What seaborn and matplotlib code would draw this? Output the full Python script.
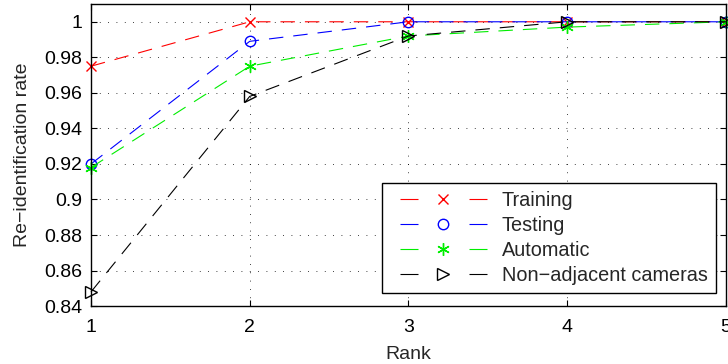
import matplotlib
matplotlib.use("Agg")
import matplotlib.pyplot as plt
import seaborn as sns
import pandas as pd

ranks = [1, 2, 3, 4, 5]
training = [0.975, 1.0, 1.0, 1.0, 1.0]
testing = [0.920, 0.989, 1.0, 1.0, 1.0]
automatic = [0.918, 0.975, 0.992, 0.997, 1.0]
non_adjacent = [0.848, 0.958, 0.992, 1.0, 1.0]
series_names = ["Training", "Testing", "Automatic", "Non\u2212adjacent cameras"]
yticks = [0.84, 0.86, 0.88, 0.9, 0.92, 0.94, 0.96, 0.98, 1.0]
ytick_labels = ["0.84", "0.86", "0.88", "0.9", "0.92", "0.94", "0.96", "0.98", "1"]

sns.set_style("ticks")
plt.rcParams["font.family"] = ["Liberation Sans", "DejaVu Sans"]

FS = 14
LFS = 14.3
fig = plt.figure(figsize=(7.28, 3.64), dpi=100)
ax = fig.add_axes([0.125, 0.159, 0.872, 0.830])

colors = ["#ff0000", "#0000ff", "#00ee00", "#000000"]
markers = ["x", "o", (6, 2, 0), ">"]
sizes = [7.5, 7.5, 9, 9]
data = [training, testing, automatic, non_adjacent]
LW = 0.8

for name, vals, c, m, s in zip(series_names, data, colors, markers, sizes):
    df = pd.DataFrame({"Rank": ranks, "rate": vals})
    sns.lineplot(data=df, x="Rank", y="rate", ax=ax, color=c, linewidth=LW,
                 linestyle=(0, (13, 9)), marker=m, markersize=s,
                 markerfacecolor="none", markeredgecolor=c, markeredgewidth=1.0,
                 label=name, clip_on=False)

ax.set_xlim(1, 5)
ax.set_ylim(0.84, 1.01)
ax.set_xticks(ranks)
ax.set_xticklabels([str(r) for r in ranks])
ax.set_yticks(yticks)
ax.set_yticklabels(ytick_labels)
ax.tick_params(direction="in", length=4, width=0.8, labelsize=FS,
               top=True, right=True, colors="black")
ax.tick_params(axis="x", pad=9)
ax.tick_params(axis="y", pad=6.5)
ax.grid(True, linestyle=(0, (1, 9)), color="black", linewidth=0.6)
for sp in ax.spines.values():
    sp.set_visible(True)
    sp.set_linewidth(1.0)
    sp.set_color("black")
ax.set_xlabel("Rank", fontsize=FS, labelpad=7.5)
ax.set_ylabel("Re\u2212identification rate", fontsize=FS, labelpad=9)

# legend handle geometry in points (px * 0.72): "— marker —" MATLAB style
px = 0.72
edge_gap = 10 * px
dash = 18 * px
mid_gap = 51 * px
HLpt = 2 * edge_gap + 2 * dash + mid_gap
leg = ax.legend(loc="lower right", bbox_to_anchor=(0.984, 0.043), borderaxespad=0,
                fontsize=LFS, frameon=True, fancybox=False, framealpha=1,
                edgecolor="black", handlelength=HLpt / LFS, borderpad=0.4,
                labelspacing=0.3, handletextpad=5 * px / LFS)
leg.get_frame().set_linewidth(1.0)
for ln in leg.get_lines():
    on = dash / LW
    off = mid_gap / LW
    offset = (dash + mid_gap - edge_gap) / LW
    ln.set_linestyle((offset, (on, off)))

fig.savefig("out.png", dpi=100)
